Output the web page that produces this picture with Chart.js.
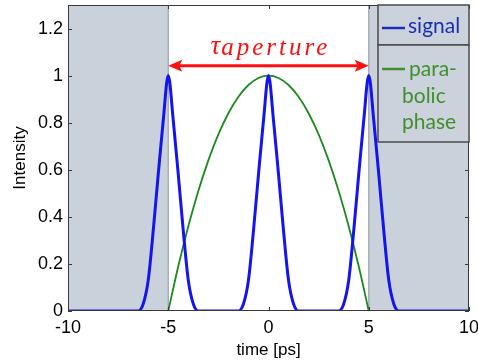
<!DOCTYPE html>
<html lang="en">
<head>
    <meta charset="UTF-8">
    <title>Signal and parabolic phase</title>
    <script src="https://cdn.jsdelivr.net/npm/chart.js"></script>
    <style>
        body {
            margin: 0;
            background: white;
        }
        .chart-box {
            width: 478px;
            height: 361px;
        }
    </style>
</head>
<body>
    <div class="chart-box">
        <canvas id="pulseChart" width="478" height="361"></canvas>
    </div>

    <script>
        // time axis samples [ps] and intensity of the pulse train
        const signalTime = [-10, -6.75, -6.5, -6.25, -6, -5.75, -5.5, -5.25, -5, -4.75, -4.5, -4.25, -4, -3.75, -3.5, -3.25,
            -1.75, -1.5, -1.25, -1, -0.75, -0.5, -0.25, 0, 0.25, 0.5, 0.75, 1, 1.25, 1.5, 1.75,
            3.25, 3.5, 3.75, 4, 4.25, 4.5, 4.75, 5, 5.25, 5.5, 5.75, 6, 6.25, 6.5, 6.75, 10];
        const signalIntensity = [0, 0, 0, 0.03, 0.13, 0.34, 0.58, 0.81, 1, 0.81, 0.58, 0.34, 0.13, 0.03, 0, 0,
            0, 0, 0.03, 0.13, 0.34, 0.58, 0.81, 1, 0.81, 0.58, 0.34, 0.13, 0.03, 0, 0,
            0, 0, 0.03, 0.13, 0.34, 0.58, 0.81, 1, 0.81, 0.58, 0.34, 0.13, 0.03, 0, 0, 0];

        // parabolic phase inside the aperture
        const phaseTime = [-5, -4.5, -4, -3.5, -3, -2.5, -2, -1.5, -1, -0.5, 0, 0.5, 1, 1.5, 2, 2.5, 3, 3.5, 4, 4.5, 5];
        const phaseValue = [0, 0.19, 0.36, 0.51, 0.64, 0.75, 0.84, 0.91, 0.96, 0.99, 1, 0.99, 0.96, 0.91, 0.84, 0.75, 0.64, 0.51, 0.36, 0.19, 0];

        const xTicks = [-10, -5, 0, 5, 10];
        const yTicks = [0, 0.2, 0.4, 0.6, 0.8, 1, 1.2];

        // aperture edges and the arrow level
        const apertureStart = -5;
        const apertureEnd = 5;
        const arrowLevel = 1.042;
        const labelLevel = 1.093;

        const shadeColor = 'rgb(201, 209, 219)';
        const frameColor = '#3a3a3a';

        function pairs(xs, ys) {
            return xs.map((x, i) => ({ x: x, y: ys[i] }));
        }

        // grey region outside the aperture
        const shadePlugin = {
            id: 'shade',
            beforeDatasetsDraw(chart) {
                const { ctx, chartArea: a, scales: { x } } = chart;
                const x1 = x.getPixelForValue(apertureStart);
                const x2 = x.getPixelForValue(apertureEnd);
                ctx.save();
                ctx.fillStyle = shadeColor;
                ctx.fillRect(a.left, a.top, x1 - a.left, a.bottom - a.top);
                ctx.fillRect(x2, a.top, a.right - x2, a.bottom - a.top);
                ctx.strokeStyle = '#a9afb6';
                ctx.lineWidth = 1.5;
                ctx.beginPath();
                ctx.moveTo(x1, a.top); ctx.lineTo(x1, a.bottom);
                ctx.moveTo(x2, a.top); ctx.lineTo(x2, a.bottom);
                ctx.stroke();
                ctx.restore();
            }
        };

        // frame, inward ticks, aperture arrow and the legend boxes
        const overlayPlugin = {
            id: 'overlay',
            afterDraw(chart) {
                const { ctx, chartArea: a, scales: { x, y } } = chart;
                ctx.save();

                // arrow
                const xa = x.getPixelForValue(apertureStart);
                const xb = x.getPixelForValue(apertureEnd);
                const ya = y.getPixelForValue(arrowLevel);
                ctx.strokeStyle = '#ff1010';
                ctx.fillStyle = '#ff1010';
                ctx.lineWidth = 3;
                ctx.beginPath();
                ctx.moveTo(xa + 10, ya);
                ctx.lineTo(xb - 10, ya);
                ctx.stroke();
                ctx.beginPath();
                ctx.moveTo(xa, ya); ctx.lineTo(xa + 14, ya - 6); ctx.lineTo(xa + 11, ya); ctx.lineTo(xa + 14, ya + 6);
                ctx.closePath(); ctx.fill();
                ctx.beginPath();
                ctx.moveTo(xb, ya); ctx.lineTo(xb - 14, ya - 6); ctx.lineTo(xb - 11, ya); ctx.lineTo(xb - 14, ya + 6);
                ctx.closePath(); ctx.fill();

                // tau label
                const cx = x.getPixelForValue(0) + 2;
                const yl = y.getPixelForValue(labelLevel);
                ctx.textBaseline = 'alphabetic';
                ctx.textAlign = 'left';
                ctx.font = 'italic 27px "Liberation Serif"';
                const tauW = ctx.measureText('τ').width;
                ctx.font = 'italic 25px "Liberation Serif"';
                ctx.letterSpacing = '3px';
                const subW = ctx.measureText('aperture').width;
                const x0 = cx - (tauW + 1 + subW) / 2;
                ctx.letterSpacing = '0px';
                ctx.font = 'italic 27px "Liberation Serif"';
                ctx.fillText('τ', x0, yl);
                ctx.font = 'italic 25px "Liberation Serif"';
                ctx.letterSpacing = '3px';
                ctx.fillText('aperture', x0 + tauW + 1, yl + 1);
                ctx.letterSpacing = '0px';

                // frame
                ctx.strokeStyle = frameColor;
                ctx.lineWidth = 1;
                ctx.strokeRect(a.left + 0.5, a.top + 0.5, a.right - a.left - 1, a.bottom - a.top - 1);

                // inward tick marks on all four sides
                ctx.beginPath();
                xTicks.forEach(v => {
                    const px = Math.round(x.getPixelForValue(v)) + 0.5;
                    ctx.moveTo(px, a.bottom); ctx.lineTo(px, a.bottom - 4);
                    ctx.moveTo(px, a.top); ctx.lineTo(px, a.top + 4);
                });
                yTicks.forEach(v => {
                    const py = Math.round(y.getPixelForValue(v)) + 0.5;
                    ctx.moveTo(a.left, py); ctx.lineTo(a.left + 4, py);
                    ctx.moveTo(a.right, py); ctx.lineTo(a.right - 4, py);
                });
                ctx.stroke();

                // legend boxes
                const lx = a.right - 91;
                const lw = 91;
                ctx.fillStyle = 'rgb(203, 210, 219)';
                ctx.strokeStyle = '#4a4a4a';
                ctx.lineWidth = 1.5;
                ctx.fillRect(lx, a.top, lw, 40);
                ctx.strokeRect(lx, a.top, lw, 40);
                ctx.fillRect(lx, a.top + 40, lw, 97);
                ctx.strokeRect(lx, a.top + 40, lw, 97);

                ctx.font = '21px Lato';
                ctx.textBaseline = 'middle';
                ctx.strokeStyle = '#1b2fb0';
                ctx.lineWidth = 2.5;
                ctx.beginPath();
                ctx.moveTo(lx + 4, a.top + 23); ctx.lineTo(lx + 27, a.top + 23);
                ctx.stroke();
                ctx.fillStyle = '#1b2fb0';
                ctx.fillText('signal', lx + 30, a.top + 21);

                ctx.strokeStyle = '#3f8f2c';
                ctx.beginPath();
                ctx.moveTo(lx + 4, a.top + 64); ctx.lineTo(lx + 27, a.top + 64);
                ctx.stroke();
                ctx.fillStyle = '#3f8f2c';
                ctx.fillText('para-', lx + 31, a.top + 64);
                ctx.fillText('bolic', lx + 24, a.top + 91);
                ctx.fillText('phase', lx + 24, a.top + 117);

                ctx.restore();
            }
        };

        const ctx = document.getElementById('pulseChart').getContext('2d');
        const pulseChart = new Chart(ctx, {
            type: 'line',
            data: {
                datasets: [{
                    label: 'signal',
                    data: pairs(signalTime, signalIntensity),
                    borderColor: '#1414f0',
                    borderWidth: 3,
                    pointRadius: 0,
                    cubicInterpolationMode: 'monotone',
                    fill: false
                }, {
                    label: 'parabolic phase',
                    data: pairs(phaseTime, phaseValue),
                    borderColor: '#1c8a1c',
                    borderWidth: 1.8,
                    pointRadius: 0,
                    cubicInterpolationMode: 'monotone',
                    fill: false
                }]
            },
            options: {
                responsive: false,
                animation: false,
                layout: {
                    padding: { top: 5, right: 9, left: 0, bottom: 0 }
                },
                plugins: {
                    legend: { display: false },
                    tooltip: { enabled: false }
                },
                scales: {
                    x: {
                        type: 'linear',
                        min: -10,
                        max: 10,
                        afterFit(scale) {
                            scale.height = 50;
                            scale.paddingLeft = 0;
                            scale.paddingRight = 0;
                        },
                        afterBuildTicks(scale) { scale.ticks = xTicks.map(v => ({ value: v })); },
                        grid: { display: false, drawTicks: false },
                        border: { display: false },
                        ticks: {
                            color: '#000',
                            padding: 6,
                            maxRotation: 0,
                            callback: v => String(v),
                            font: { family: '"Liberation Sans"', size: 18 }
                        },
                        title: {
                            display: true,
                            text: 'time [ps]',
                            color: '#000',
                            padding: { top: 0, bottom: 0 },
                            font: { family: '"Liberation Sans"', size: 17 }
                        }
                    },
                    y: {
                        type: 'linear',
                        min: 0,
                        max: 1.3,
                        afterFit(scale) {
                            scale.width = 68;
                            scale.paddingTop = 0;
                            scale.paddingBottom = 0;
                        },
                        afterBuildTicks(scale) { scale.ticks = yTicks.map(v => ({ value: v })); },
                        grid: { display: false, drawTicks: false },
                        border: { display: false },
                        ticks: {
                            color: '#000',
                            padding: 5,
                            callback: v => String(v),
                            font: { family: '"Liberation Sans"', size: 18 }
                        },
                        title: {
                            display: true,
                            text: 'Intensity',
                            color: '#000',
                            padding: { top: 10, bottom: 0 },
                            font: { family: '"Liberation Sans"', size: 17 }
                        }
                    }
                }
            },
            plugins: [shadePlugin, overlayPlugin]
        });
    </script>
</body>
</html>
